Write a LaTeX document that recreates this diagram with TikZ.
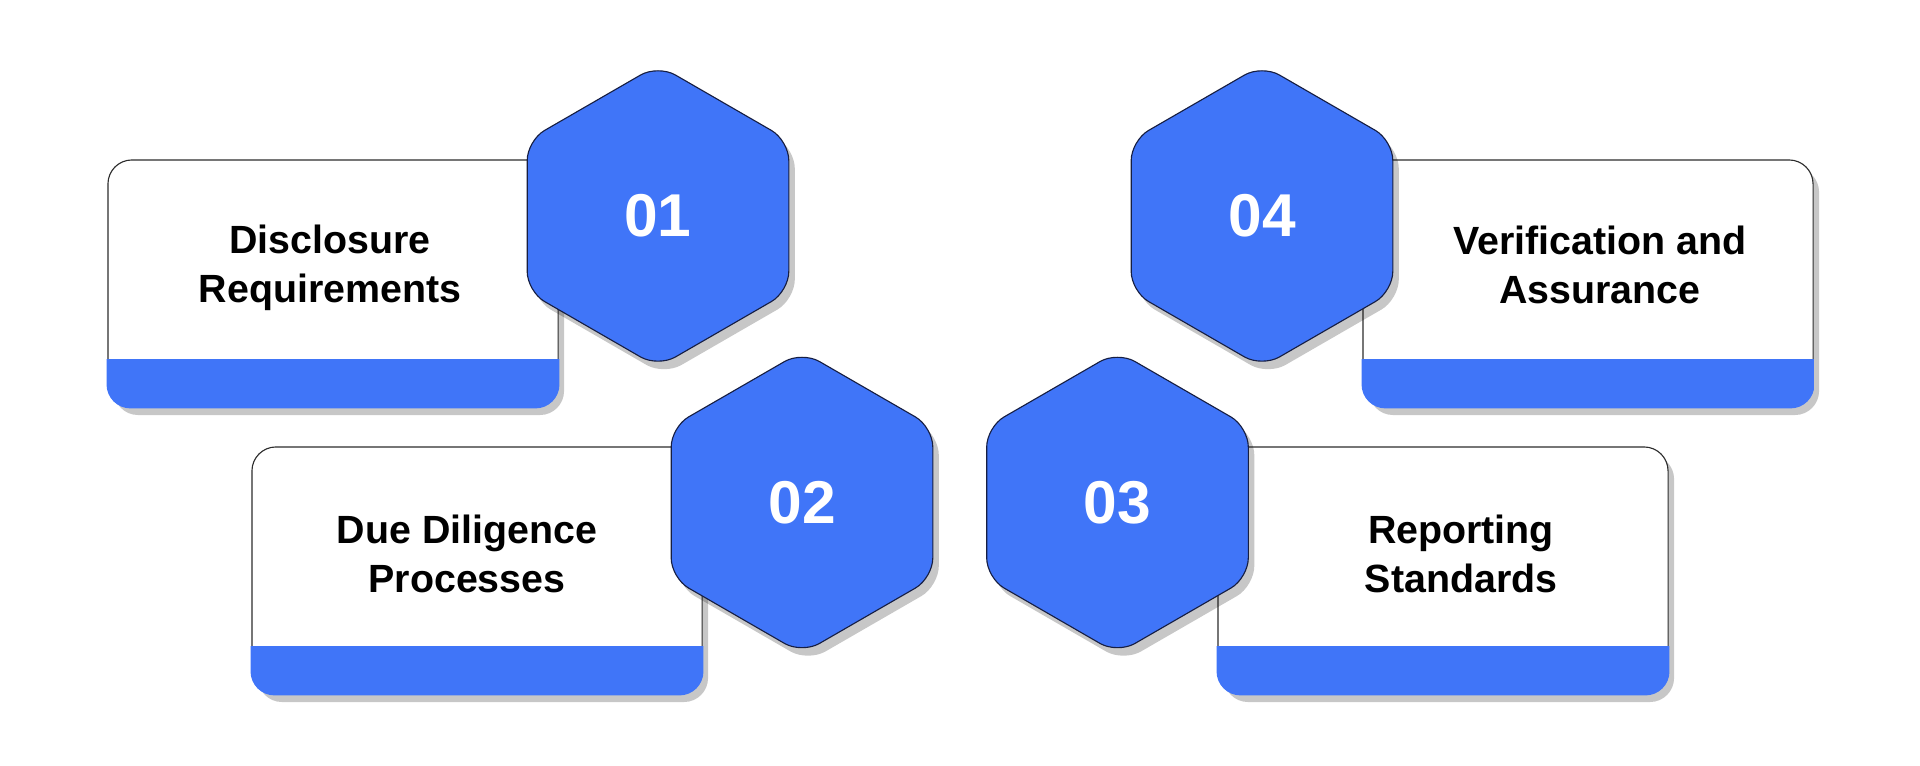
\documentclass[tikz,border=0pt]{standalone}
\usepackage{fontspec}
\setmainfont{Liberation Sans}
\usetikzlibrary{shapes.geometric,shadows}
\definecolor{hexblue}{RGB}{64,117,248}
\definecolor{edgegray}{RGB}{45,45,45}
\definecolor{hexedge}{RGB}{22,30,66}
\newcommand{\cardbar}[1]{%
  \begin{scope}
    \clip[rounded corners=0.6cm] ([shift={(-0.6pt,-0.6pt)}]#1.south west) rectangle ([shift={(0.6pt,0.6pt)}]#1.north east);
    \fill[hexblue] ([shift={(-1pt,-1pt)}]#1.south west) rectangle ([shift={(1pt,1.225cm)}]#1.south east);
  \end{scope}}
\tikzset{
  card/.style={draw=edgegray, line width=0.8pt, fill=white, rounded corners=0.6cm,
    minimum width=11.25cm, minimum height=6.175cm, inner sep=0pt,
    drop shadow={shadow xshift=0.15cm, shadow yshift=-0.2cm, opacity=0.22, fill=black}},
  hexa/.style={regular polygon, regular polygon sides=6, shape border rotate=30,
    minimum size=7.55cm, inner sep=0pt, rounded corners=0.5cm,
    fill=hexblue, draw=hexedge, line width=0.8pt, text=white,
    font=\fontsize{43}{48}\selectfont\bfseries,
    drop shadow={shadow xshift=0.15cm, shadow yshift=-0.2cm, opacity=0.22, fill=black}},
  ctxt/.style={font=\fontsize{28}{35}\selectfont\bfseries, align=center, text=black},
}
\begin{document}
\begin{tikzpicture}[x=0.025cm,y=0.025cm]
\useasboundingbox (0,0) rectangle (1920,766);
% cards
\node[card] (c1) at (333,482.5) {};
\node[card] (c2) at (477,195.5) {};
\node[card] (c3) at (1443,195.5) {};
\node[card] (c4) at (1588,482.5) {};
\cardbar{c1} \cardbar{c2} \cardbar{c3} \cardbar{c4}
% labels
\node[ctxt] (t1) at (330,498) {Disclosure\\Requirements};
\node[ctxt] (t2) at (467,212) {Due Diligence\\Processes};
\node[ctxt] (t3) at (1461,212) {Reporting\\Standards};
\node[ctxt] (t4) at (1600,501) {Verification and\\Assurance};
% hexagons
\node[hexa] (h1) at (658,550) {01};
\node[hexa] (h2) at (802,263.5) {02};
\node[hexa] (h3) at (1117.5,263.5) {03};
\node[hexa] (h4) at (1262,550) {04};
\end{tikzpicture}
\end{document}
